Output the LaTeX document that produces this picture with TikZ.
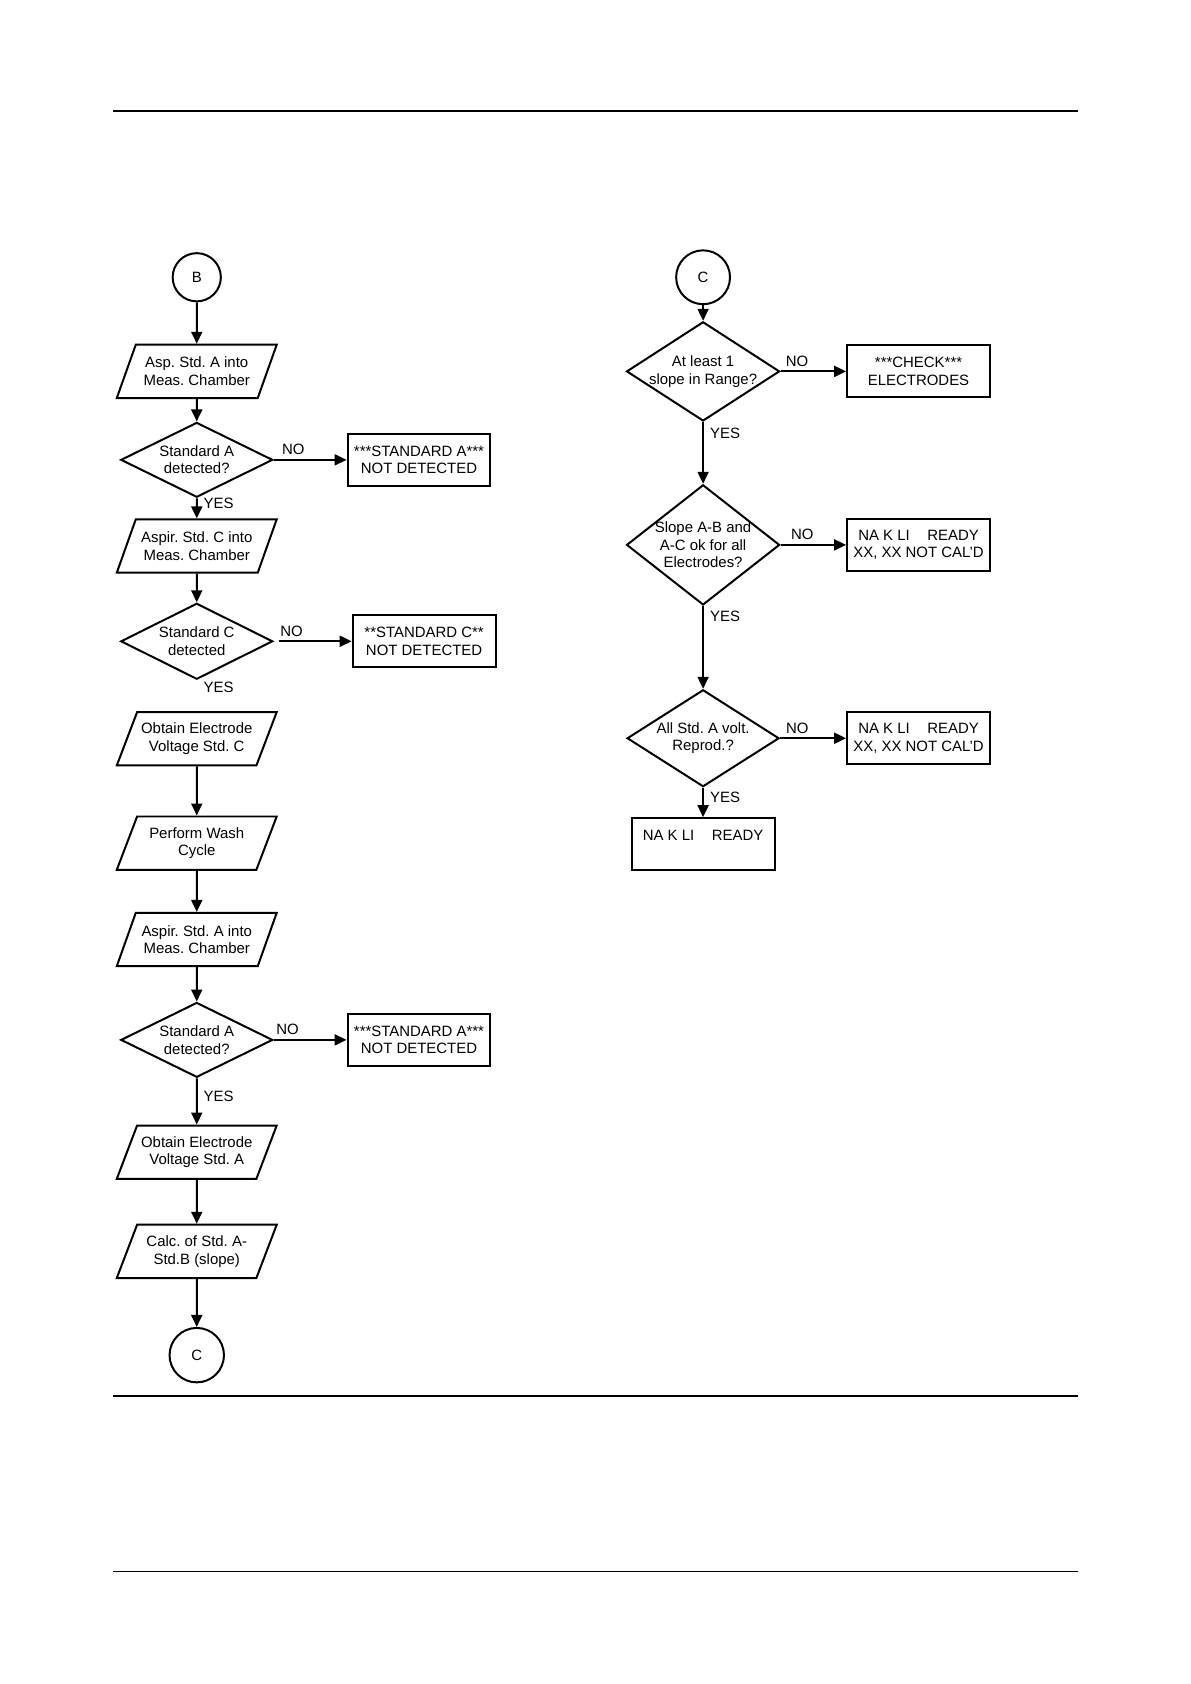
\documentclass[tikz,border=0pt]{standalone}
\usepackage{fontspec}
\setmainfont{Liberation Sans}
\usetikzlibrary{shapes.geometric,arrows.meta}
\frenchspacing
\begin{document}
\begin{tikzpicture}[
  font=\fontsize{7.5}{8.8}\selectfont,
  line width=1pt,
  >={Triangle[length=6pt,width=5.5pt]},
  io/.style={draw, trapezium, trapezium left angle=65.6, trapezium right angle=114.4,
    trapezium stretches body, minimum width=2.82cm, minimum height=0.94cm,
    inner xsep=0pt, align=center},
  decision/.style={draw, diamond, inner sep=-1cm, align=center},
  msgbox/.style={draw, rectangle, minimum width=2.52cm, minimum height=0.92cm,
    inner sep=0pt, align=center},
  conn/.style={draw, circle, inner sep=0pt},
  no/.style={above, inner sep=2pt},
  yes/.style={anchor=west, inner xsep=3pt, inner ysep=0pt}]
\useasboundingbox (0,0) rectangle (21,-29.7);
% page rules
\draw[line width=0.6pt] (1.994,-1.959) -- (19.02,-1.959);
\draw[line width=0.6pt] (1.994,-24.62) -- (19.02,-24.62);
\draw[line width=0.6pt] (1.994,-27.71) -- (19.02,-27.71);
% left column
\node[conn, minimum size=0.85cm] (b) at (3.47,-4.89) {B};
\node[io] (p1) at (3.47,-6.55) {Asp. Std. A into\\Meas. Chamber};
\node[decision, minimum width=2.68cm, minimum height=1.32cm] (d1) at (3.47,-8.11) {Standard A\\detected?};
\node[msgbox] (e1) at (7.39,-8.11) {***STANDARD A***\\NOT DETECTED};
\node[io] (p2) at (3.47,-9.63) {Aspir. Std. C into\\Meas. Chamber};
\node[decision, minimum width=2.68cm, minimum height=1.34cm] (d2) at (3.47,-11.31) {Standard C\\detected};
\node[msgbox] (e2) at (7.48,-11.31) {**STANDARD C**\\NOT DETECTED};
\node[yes] (y2) at (3.47,-12.12) {YES};
\node[io] (p3) at (3.47,-13.03) {Obtain Electrode\\Voltage Std. C};
\node[io] (p4) at (3.47,-14.87) {Perform Wash\\Cycle};
\node[io] (p5) at (3.47,-16.57) {Aspir. Std. A into\\Meas. Chamber};
\node[decision, minimum width=2.68cm, minimum height=1.32cm] (d3) at (3.47,-18.34) {Standard A\\detected?};
\node[msgbox] (e3) at (7.39,-18.34) {***STANDARD A***\\NOT DETECTED};
\node[io] (p6) at (3.47,-20.32) {Obtain Electrode\\Voltage Std. A};
\node[io] (p7) at (3.47,-22.07) {Calc. of Std. A-\\Std.B (slope)};
\node[conn, minimum size=0.96cm] (c1) at (3.47,-23.90) {C};
\draw[->] (b) -- (p1);
\draw[->] (p1) -- (d1);
\draw[->] (d1) -- node[no, pos=0.27] (n1) {NO} (e1);
\draw[->] (d1) -- node[yes, pos=0.27] (y1) {YES} (p2);
\draw[->] (p2) -- (d2);
\draw[->, shorten <=2.5pt] (d2) -- node[no, pos=0.23] (n2) {NO} (e2);
\draw[->] (p3) -- (p4);
\draw[->] (p4) -- (p5);
\draw[->] (p5) -- (d3);
\draw[->] (d3) -- node[no, pos=0.19] (n3) {NO} (e3);
\draw[->] (d3) -- node[yes, pos=0.38] (y3) {YES} (p6);
\draw[->] (p6) -- (p7);
\draw[->] (p7) -- (c1);
% right column
\node[conn, minimum size=0.95cm] (c2) at (12.40,-4.89) {C};
\node[decision, minimum width=2.70cm, minimum height=1.75cm] (d4) at (12.40,-6.55) {At least 1\\slope in Range?};
\node[msgbox] (k1) at (16.20,-6.55) {***CHECK***\\ELECTRODES};
\node[decision, minimum width=2.70cm, minimum height=2.12cm] (d5) at (12.40,-9.61) {Slope A-B and\\A-C ok for all\\Electrodes?};
\node[msgbox] (k2) at (16.20,-9.61) {NA K LI\hspace{0.9em} READY\\XX, XX NOT CAL'D};
\node[decision, minimum width=2.68cm, minimum height=1.71cm] (d6) at (12.40,-13.02) {All Std. A volt.\\Reprod.?};
\node[msgbox] (k3) at (16.20,-13.02) {NA K LI\hspace{0.9em} READY\\XX, XX NOT CAL'D};
\node[msgbox] (r1) at (12.40,-14.89) {NA K LI\hspace{0.9em} READY\\\mbox{}};
\draw[->] (c2) -- (d4);
\draw[->] (d4) -- node[no, pos=0.25] (n4) {NO} (k1);
\draw[->] (d4) -- node[yes, pos=0.18] (y4) {YES} (d5);
\draw[->] (d5) -- node[no, pos=0.33] (n5) {NO} (k2);
\draw[->] (d5) -- node[yes, pos=0.12] (y5) {YES} (d6);
\draw[->] (d6) -- node[no, pos=0.26] (n6) {NO} (k3);
\draw[->] (d6) -- node[yes, pos=0.32] (y6) {YES} (r1);
\end{tikzpicture}
\end{document}
